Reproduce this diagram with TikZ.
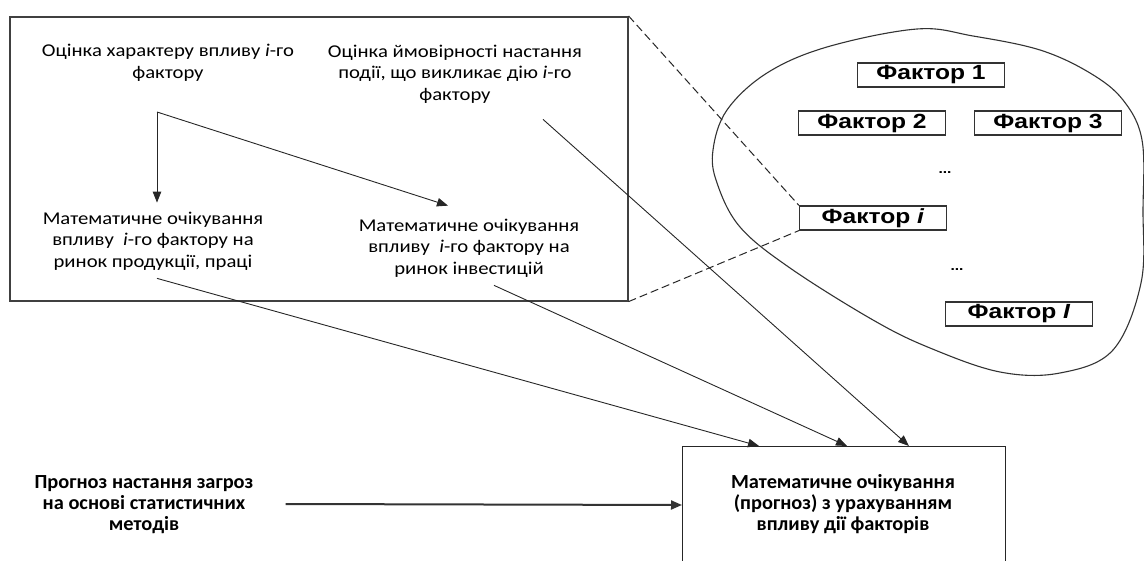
\documentclass[tikz,border=0pt]{standalone}
\usepackage{fontspec}
\setmainfont{Carlito}[FakeStretch=1.15]
\newfontfamily\factorfont{Liberation Sans}[FakeStretch=1.2]
\newfontfamily\boldtext{Carlito}[FakeStretch=1.02]
\usetikzlibrary{arrows.meta,calc}

\tikzset{
  frame/.style={draw=black!75, line width=1.6pt},
  factorbox/.style={draw=black!80, line width=1.2pt, minimum width=147pt,
    minimum height=24pt, inner sep=0pt,
    font=\factorfont\bfseries\fontsize{20.5}{20.5}\selectfont},
  wire/.style={draw=black!85, line width=0.9pt},
  arrow/.style={wire, -{Triangle[length=11pt,width=8.5pt]}},
  thickarrow/.style={draw=black!80, line width=2pt, -{Triangle[length=11pt,width=9pt]}},
  link/.style={draw=black!85, line width=1pt, dash pattern=on 8pt off 4pt},
  txt/.style={align=center, inner sep=0pt, font=\fontsize{18}{21.5}\selectfont},
  btxt/.style={align=center, inner sep=0pt,
    font=\boldtext\bfseries\fontsize{20}{21}\selectfont},
  dots/.style={inner sep=0pt, font=\factorfont\bfseries\fontsize{13}{13}\selectfont}
}

\begin{document}
\begin{tikzpicture}[x=1pt,y=-1pt]
\useasboundingbox (0,0) rectangle (1144,561);

% left panel with the assessment steps
\node[frame, anchor=north west, minimum width=618pt, minimum height=284pt,
      inner sep=0pt] (panel) at (9,16) {};

\node[txt] (t1) at (168,63) {Оцінка характеру впливу \textit{i}-го\\фактору};
\node[txt] (t2) at (455,74) {Оцінка ймовірності настання\\події, що викликає дію \textit{i}-го\\фактору};
\node[txt] (t3) at (153,241) {Математичне очікування\\впливу \ \textit{i}-го фактору на\\ринок продукції, праці};
\node[txt] (t4) at (469,248) {Математичне очікування\\впливу \ \textit{i}-го фактору на\\ринок інвестицій};

\coordinate (split) at (157,112);
\draw[arrow] (split) -- ($(t3.north)+(4,-9)$);
\draw[arrow] (split) -- ($(t4.north)+(-21,-13)$);

% set of factors
\draw[black!80, line width=1.1pt] plot[smooth cycle, tension=0.6] coordinates {
  (917,29) (973,36) (1040,50) (1090,73) (1123,100) (1142,140) (1143,210)
  (1141,283) (1113,350) (1060,373) (1000,372) (930,348) (873,320) (790,268)
  (740,227) (717,183) (713,150) (727,110) (767,73) (827,47)};

\node[factorbox] (f1) at (931,75)  {Фактор 1};
\node[factorbox] (f2) at (872,123) {Фактор 2};
\node[factorbox] (f3) at (1048,123) {Фактор 3};
\node[dots] (d1) at (945,173) {...};
\node[factorbox] (fi) at (873,218) {Фактор \textit{i}};
\node[dots] (d2) at (957,270) {...};
\node[factorbox] (fI) at (1019,314) {Фактор \textit{I}};

\draw[link] (panel.north east) -- (fi.north west);
\draw[link] (panel.south east) -- (fi.south west);

% resulting estimate
\node[wire, anchor=north west, minimum width=323pt, minimum height=160pt,
      inner sep=0pt] (res) at (682,446) {};
\node[btxt] (rtxt) at (843,504) {Математичне очікування\\(прогноз) з урахуванням\\впливу дії факторів};
\node[btxt] (lt) at (144,505) {Прогноз настання загроз\\на основі статистичних\\методів};

\draw[arrow] ($(t3.south)+(4,8)$) -- ($(res.north west)+(77,0)$);
\draw[arrow] ($(t4.south)+(25,8)$) -- ($(res.north west)+(165,0)$);
\draw[arrow] ($(t2.south)+(88,16)$) -- ($(res.north west)+(227,0)$);
\draw[thickarrow] ($(lt.east)+(32,-1)$) -- (lt.east -| res.west);
\end{tikzpicture}
\end{document}
